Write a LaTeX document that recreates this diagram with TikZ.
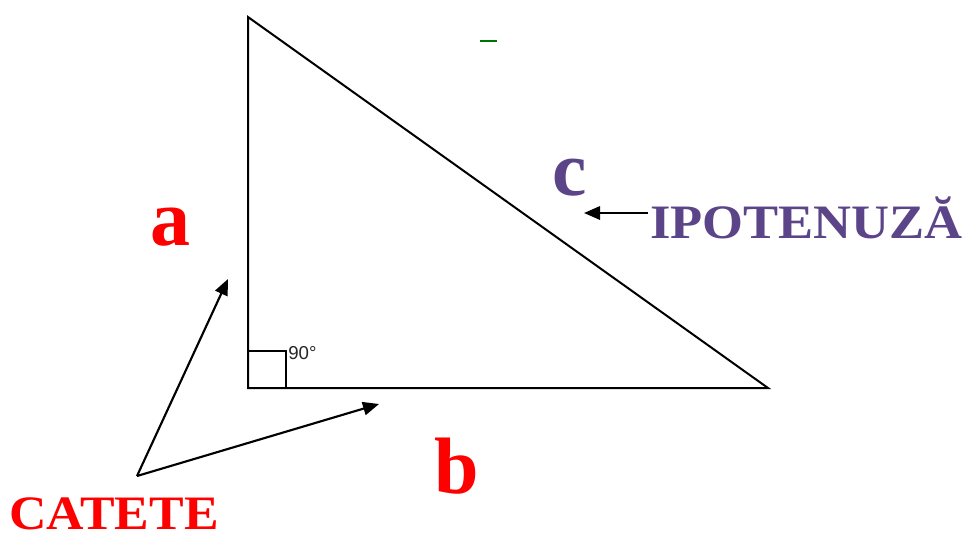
\documentclass[tikz,border=0pt]{standalone}
\usepackage{fontspec}
\setmainfont{Liberation Serif}
\newfontfamily\labelsans{Liberation Sans}
\usetikzlibrary{arrows.meta}
\definecolor{tred}{HTML}{FF0000}
\definecolor{tpurple}{HTML}{5C4489}
\tikzset{
  side/.style={line width=1.5pt, black},
  pointer/.style={line width=1.6pt, black, -{Triangle[length=12pt,width=10pt]}},
  bigred/.style={text=tred, font=\bfseries\fontsize{60}{60}\selectfont, inner sep=0pt},
  bigpurple/.style={text=tpurple, font=\bfseries\fontsize{58}{58}\selectfont, inner sep=0pt},
  caption/.style={font=\bfseries\fontsize{36}{36}\selectfont, inner sep=0pt}
}
\begin{document}
\begin{tikzpicture}[x=0.75pt,y=-0.75pt]
\useasboundingbox (0,0) rectangle (964,540);
\fill[white] (0,0) rectangle (964,540);
% vertices
\coordinate (A) at (248,17);
\coordinate (C) at (248,388);
\coordinate (B) at (768,388);
\draw[side, line join=miter] (A) -- (C) -- (B) -- cycle;
% right-angle mark
\coordinate (R1) at (248,351);
\coordinate (R2) at (286,351);
\coordinate (R3) at (286,388);
\draw[side] (R1) -- (R2) -- (R3);
\node[anchor=west, inner sep=0pt, font=\labelsans\fontsize{14}{14}\selectfont, text=black!85] (deg) at (288,353) {90°};
% labels
\node[bigred, anchor=base] (la) at (170,245) {a};
\node[bigred, anchor=base] (lb) at (457,493) {b};
\node[bigpurple, anchor=base] (lc) at (570,195) {c};
\node[caption, text=tpurple, anchor=base west] (hyp) at (650,238) {\scalebox{1.095}[1]{IPOTENUZĂ}};
\node[caption, text=tred, anchor=base west] (cat) at (9,529) {\scalebox{1.08}[1]{CATETE}};
% arrows
\coordinate (hypTip) at (584,213);
\coordinate (hypTail) at (648,213);
\draw[pointer] (hypTail) -- (hypTip);
\coordinate (fork) at (137,476);
\coordinate (tipA) at (228,279);
\coordinate (tipB) at (379,404);
\draw[pointer] (fork) -- (tipA);
\draw[pointer] (fork) -- (tipB);
% small green mark
\coordinate (g1) at (480,41);
\coordinate (g2) at (497,41);
\draw[line width=1.5pt, green!45!black] (g1) -- (g2);
\end{tikzpicture}
\end{document}
